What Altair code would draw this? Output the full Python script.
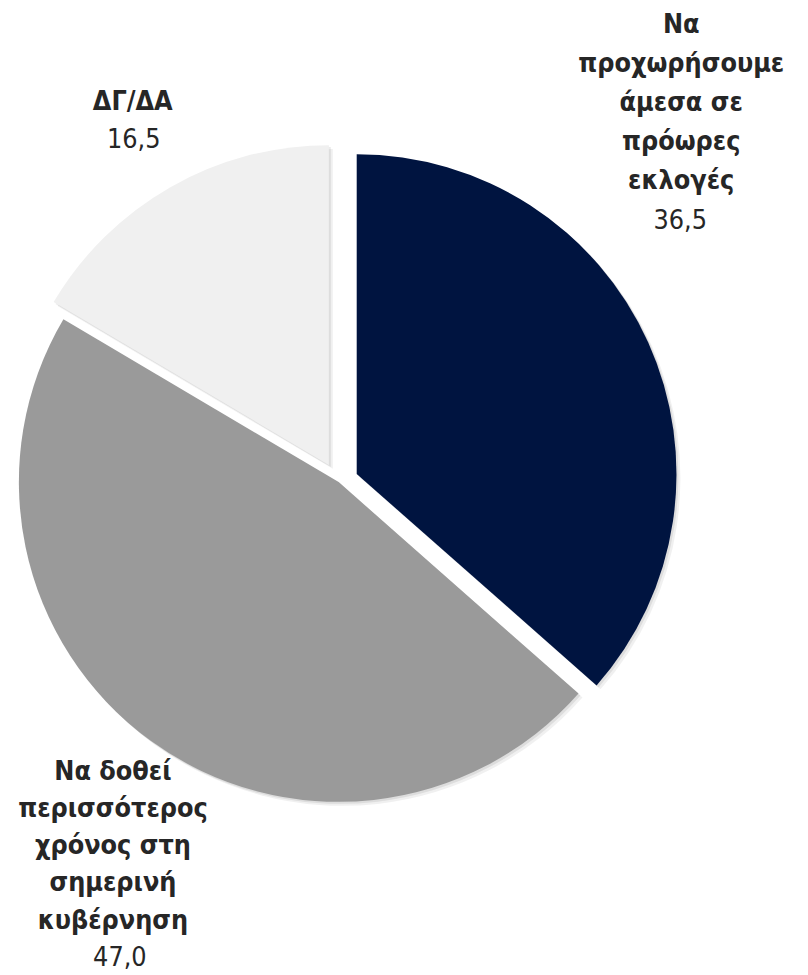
import altair as alt
import pandas as pd

# ---- data ----
CATEGORIES = [
    "Να\nπροχωρήσουμε\nάμεσα σε\nπρόωρες\nεκλογές",
    "Να δοθεί\nπερισσότερος\nχρόνος στη\nσημερινή\nκυβέρνηση",
    "ΔΓ/ΔΑ",
]
VALUES = [36.5, 47.0, 16.5]

# ---- styling ----
COLORS = ["#001440", "#9a9a9a", "#f0f0f0"]
TXT = "#262626"
FONT = "DejaVu Sans Condensed, DejaVu Sans, sans-serif"
FS = 27
CX, CY, R = 334, 474, 323
EXPLODE = [20, 0, 20]
# (x, y of first line centre, line height)
NAME_POS = [(680, 12, 39.6), (106, 767, 37.5), (126, 90, 39)]
VALUE_POS = [(679, 210), (113, 955), (127, 129)]

df = pd.DataFrame({"idx": list(range(len(VALUES))), "category": CATEGORIES, "value": VALUES})

explode_expr = " : ".join(f"datum.idx == {i} ? {e}" for i, e in enumerate(EXPLODE[:-1])) + f" : {EXPLODE[-1]}"

base = (
    alt.Chart(df)
    .transform_window(cum="sum(value)", sort=[alt.SortField("idx")], frame=[None, 0])
    .transform_joinaggregate(total="sum(value)")
    .transform_calculate(t0="(datum.cum - datum.value) / datum.total * 2 * PI")
    .transform_calculate(t1="datum.cum / datum.total * 2 * PI")
    .transform_calculate(mid="(datum.t0 + datum.t1) / 2")
    .transform_calculate(off=explode_expr)
    .transform_calculate(px=f"{CX} + datum.off * sin(datum.mid)")
    .transform_calculate(py=f"{CY} - datum.off * cos(datum.mid)")
)

color = alt.Color("idx:N", scale=alt.Scale(domain=list(range(len(VALUES))), range=COLORS), legend=None)


def shadow(dx, dy, op):
    return (
        base.transform_calculate(sx=f"datum.px + {dx}")
        .transform_calculate(sy=f"datum.py + {dy}")
        .mark_arc(radius=R, color="#000000", opacity=op)
        .encode(
            theta=alt.Theta("t0:Q", scale=None),
            theta2="t1:Q",
            x=alt.X("sx:Q", scale=None),
            y=alt.Y("sy:Q", scale=None),
        )
    )


pie = base.mark_arc(radius=R).encode(
    theta=alt.Theta("t0:Q", scale=None),
    theta2="t1:Q",
    x=alt.X("px:Q", scale=None),
    y=alt.Y("py:Q", scale=None),
    color=color,
)

layers = [shadow(4, 4, 0.06), shadow(2, 2, 0.08), pie]
for i in range(len(VALUES)):
    nx, ny, lh = NAME_POS[i]
    vx, vy = VALUE_POS[i]
    t = base.transform_filter(f"datum.idx == {i}")
    layers.append(
        t.mark_text(font=FONT, fontSize=FS, fontWeight="bold", color=TXT, lineBreak="\n",
                    lineHeight=lh, align="center", baseline="middle")
        .encode(text="category:N", x=alt.value(nx), y=alt.value(ny))
    )
    layers.append(
        t.transform_calculate(vl="replace(format(datum.value, '.1f'), '.', ',')")
        .mark_text(font=FONT, fontSize=FS, fontWeight="normal", color=TXT,
                   align="center", baseline="middle")
        .encode(text="vl:N", x=alt.value(vx), y=alt.value(vy))
    )

chart = (
    alt.layer(*layers)
    .properties(width=800, height=967, padding=0, autosize="none")
    .configure_view(stroke=None)
)

chart.save("out.html", embed_options={"renderer": "svg", "actions": False})
